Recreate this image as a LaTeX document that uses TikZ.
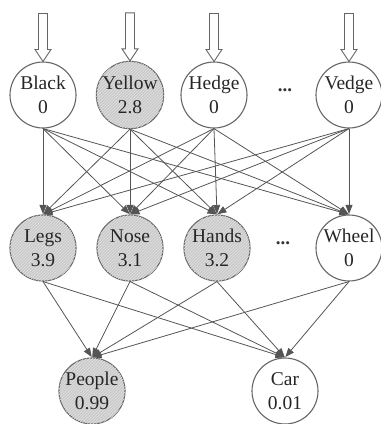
\documentclass[tikz,border=0pt]{standalone}
\usepackage{fontspec}
\setmainfont{Liberation Serif}
\usetikzlibrary{arrows.meta,patterns}
\definecolor{edgecol}{HTML}{555555}
\definecolor{bordcol}{HTML}{666666}
\definecolor{shadefill}{HTML}{CBCBCB}
\definecolor{hatchcol}{HTML}{E0E0E0}
\begin{document}
\begin{tikzpicture}[x=1pt,y=-1pt,
  unit/.style={circle,draw=bordcol,line width=1.1pt,fill=white,minimum size=66pt,inner sep=0pt,
    align=center,font=\fontsize{19.5}{24.5}\selectfont,text=black!85},
  active/.style={unit,fill=shadefill,postaction={pattern=north east lines,pattern color=hatchcol}},
  link/.style={draw=edgecol,line width=0.8pt,-{Triangle[length=9pt,width=7pt]},shorten >=0.5pt},
  hollow/.style={draw=bordcol,line width=0.9pt,fill=white,line join=miter},
  dotstyle/.style={font=\fontsize{19}{24}\selectfont\bfseries,text=black!80}]
\useasboundingbox (0,0) rectangle (381,424);
% top layer
\node[unit]   (black)  at (43,95)  {Black\\0};
\node[active] (yellow) at (130,95) {Yellow\\2.8};
\node[unit]   (hedge)  at (214,95) {Hedge\\0};
\node[dotstyle] (dots1) at (285,90) {...};
\node[unit]   (vedge)  at (349,95) {Vedge\\0};
% middle layer
\node[active] (legs)  at (43,248)  {Legs\\3.9};
\node[active] (nose)  at (130,248) {Nose\\3.1};
\node[active] (hands) at (217,248) {Hands\\3.2};
\node[dotstyle] (dots2) at (283,243) {...};
\node[unit]   (wheel) at (349,248) {Wheel\\0};
% bottom layer
\node[active] (people) at (92,391)  {People\\0.99};
\node[unit]   (car)    at (285,391) {Car\\0.01};
% input arrows
\foreach \n in {black,yellow,hedge,vedge}{
  \draw[hollow] (\n.north) -- ++(-8,-12) -- ++(3.5,0) -- ++(0,-36) -- ++(9,0) -- ++(0,36) -- ++(3.5,0) -- cycle;
}
% top -> middle
\foreach \s in {black,yellow,hedge,vedge}{
  \foreach \t in {legs,nose,hands,wheel}{
    \draw[link] (\s.south) -- (\t.north);
  }
}
% middle -> bottom
\foreach \s in {legs,nose,hands,wheel}{
  \foreach \t in {people,car}{
    \draw[link] (\s.south) -- (\t.north);
  }
}
\end{tikzpicture}
\end{document}
